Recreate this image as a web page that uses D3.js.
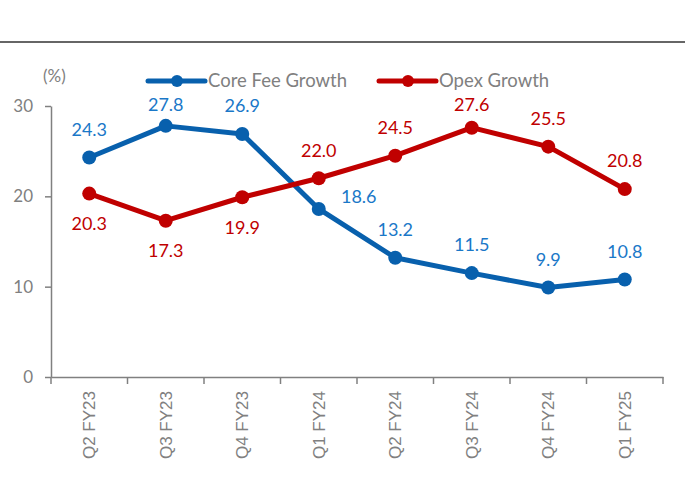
<!DOCTYPE html>
<html>
<head>
<meta charset="utf-8">
<script src="https://cdn.jsdelivr.net/npm/d3@7"></script>
<style>
  body { margin: 0; background: #fff; }
  svg { display: block; }
</style>
</head>
<body>
<div id="chart"></div>
<script>
var quarters = ["Q2 FY23", "Q3 FY23", "Q4 FY23", "Q1 FY24", "Q2 FY24", "Q3 FY24", "Q4 FY24", "Q1 FY25"];
var coreFee = [24.3, 27.8, 26.9, 18.6, 13.2, 11.5, 9.9, 10.8];
var opex = [20.3, 17.3, 19.9, 22.0, 24.5, 27.6, 25.5, 20.8];
var yTicks = [0, 10, 20, 30];

// where each data label sits relative to its point
var coreLabelPos = ["above", "above", "above", "right", "above", "above", "above", "above"];
var opexLabelPos = ["below", "below", "below", "above", "above", "above", "above", "above"];

var width = 685, height = 479;
var grey = "#808080";

var series = [
    {name: "Core Fee Growth", values: coreFee, pos: coreLabelPos, line: "#0860ad", text: "#1a78c8", lx: 148},
    {name: "Opex Growth", values: opex, pos: opexLabelPos, line: "#c00000", text: "#c00000", lx: 379}
];

var svg = d3.select("#chart").append("svg")
    .attr("width", width)
    .attr("height", height);

// rule under the (cropped) title
svg.append("line")
    .attr("x1", 0).attr("x2", width)
    .attr("y1", 42).attr("y2", 42)
    .attr("stroke", "#333")
    .attr("stroke-width", 1.5);

var x = d3.scaleBand().domain(quarters).range([51, 663]);
var y = d3.scaleLinear().domain([0, 30]).range([377, 106]);

// y axis
var yAxis = svg.append("g")
    .attr("transform", "translate(51,0)")
    .call(d3.axisLeft(y).tickValues(yTicks).tickSize(6).tickSizeOuter(0).tickPadding(12));
yAxis.select(".domain").attr("stroke", grey).attr("stroke-width", 1.5);
yAxis.selectAll(".tick line").attr("stroke", grey).attr("stroke-width", 1.5);
yAxis.selectAll(".tick text")
    .attr("fill", grey)
    .style("font-family", "Lato")
    .style("font-size", "17px");

// x axis: labels centred on bands, ticks on band edges
var xAxis = svg.append("g")
    .attr("transform", "translate(0,377)")
    .call(d3.axisBottom(x).tickSize(0).tickSizeOuter(0));
xAxis.select(".domain").attr("stroke", grey).attr("stroke-width", 1.5);
xAxis.selectAll(".tick text")
    .attr("fill", grey)
    .attr("transform", "rotate(-90)")
    .attr("text-anchor", "end")
    .attr("x", -14)
    .attr("y", 0)
    .attr("dy", "0.35em")
    .style("font-family", "Liberation Sans, Arial, sans-serif")
    .style("font-size", "17px");

var edges = quarters.map(function(q) { return x(q); }).concat([x.range()[1]]);
xAxis.selectAll(".edge")
    .data(edges)
    .enter().append("line")
    .attr("class", "edge")
    .attr("x1", function(d) { return d; })
    .attr("x2", function(d) { return d; })
    .attr("y1", 0).attr("y2", 7)
    .attr("stroke", grey)
    .attr("stroke-width", 1.5);

svg.append("text")
    .attr("x", 43).attr("y", 76)
    .attr("dy", "0.35em")
    .attr("fill", grey)
    .style("font-family", "Lato")
    .style("font-size", "17px")
    .text("(%)");

var cx = function(d, i) { return x(quarters[i]) + x.bandwidth() / 2; };

var line = d3.line()
    .x(function(d, i) { return x(quarters[i]) + x.bandwidth() / 2; })
    .y(function(d) { return y(d); });

series.forEach(function(s) {
    svg.append("path")
        .datum(s.values)
        .attr("d", line)
        .attr("fill", "none")
        .attr("stroke", s.line)
        .attr("stroke-width", 5)
        .attr("stroke-linejoin", "round");

    svg.selectAll(null)
        .data(s.values)
        .enter().append("circle")
        .attr("cx", cx)
        .attr("cy", function(d) { return y(d); })
        .attr("r", 7)
        .attr("fill", s.line);

    svg.selectAll(null)
        .data(s.values)
        .enter().append("text")
        .attr("x", function(d, i) { return cx(d, i) + (s.pos[i] == "right" ? 40 : 0); })
        .attr("y", function(d, i) {
            var p = s.pos[i];
            if (p == "below") return y(d) + 30;
            if (p == "right") return y(d) - 12;
            return Math.max(105, y(d) - 28);
        })
        .attr("dy", "0.35em")
        .attr("text-anchor", "middle")
        .attr("fill", s.text)
        .style("font-family", "Lato")
        .style("font-size", "18px")
        .text(function(d) { return d.toFixed(1); });

    // legend
    var lg = svg.append("g").attr("transform", "translate(" + s.lx + ",81)");
    lg.append("line")
        .attr("x1", 0).attr("x2", 57)
        .attr("stroke", s.line)
        .attr("stroke-width", 5)
        .attr("stroke-linecap", "round");
    lg.append("circle").attr("cx", 29).attr("r", 6).attr("fill", s.line);
    lg.append("text")
        .attr("x", 60)
        .attr("dy", "0.35em")
        .attr("fill", grey)
        .style("font-family", "Lato")
        .style("font-size", "18.5px")
        .text(s.name);
});
</script>
</body>
</html>
